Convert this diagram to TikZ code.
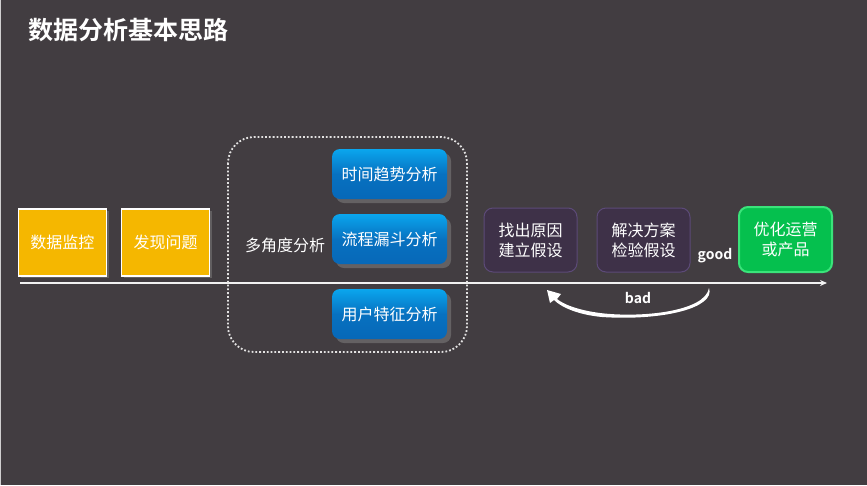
\documentclass[tikz,border=0pt]{standalone}
\usepackage{fontspec}
\setmainfont{Noto Sans CJK SC}
\newfontfamily\cjkb{Noto Sans CJK SC Bold}
\usetikzlibrary{arrows.meta,shadows,shapes.misc}
\definecolor{bg}{HTML}{423D41}
\definecolor{ybox}{HTML}{F5B700}
\definecolor{btop}{HTML}{0AA6EE}
\definecolor{bbot}{HTML}{0768B8}
\definecolor{pfill}{HTML}{3E3148}
\definecolor{pline}{HTML}{5C4A78}
\definecolor{gfill}{HTML}{05C04E}
\definecolor{gline}{HTML}{3AE47A}
\tikzset{
  txt/.style={text=white, font=\fontsize{16}{19}\selectfont},
  ybx/.style={txt, draw=white, line width=1.5pt, fill=ybox, minimum width=88pt, minimum height=67pt,
    drop shadow={opacity=0.5,shadow xshift=2pt,shadow yshift=-2pt}},
  bbx/.style={txt, rounded corners=8pt, top color=btop, bottom color=bbot, middle color=bbot!85!btop, minimum width=115pt, minimum height=50pt,
    drop shadow={opacity=0.55,shadow xshift=4pt,shadow yshift=-4pt}},
  pbx/.style={txt, rounded corners=9pt, draw=pline, line width=1pt, fill=pfill, minimum width=93pt, minimum height=64pt,
    align=center, font=\fontsize{16}{20}\selectfont},
  gbx/.style={txt, rounded corners=9pt, draw=gline, line width=2pt, fill=gfill, minimum width=93pt, minimum height=65pt,
    align=center, font=\fontsize{16}{20}\selectfont},
  lbl/.style={text=white, font=\cjkb\fontsize{14}{16}\selectfont},
}
\begin{document}
\begin{tikzpicture}[x=1pt,y=-1pt]
\fill[bg] (0,0) rectangle (867,485);
\useasboundingbox (0,0) rectangle (867,485);
\draw[white!75!bg, line width=1pt] (0.5,0) -- (0.5,485);
\node[anchor=west, text=white, font=\cjkb\fontsize{25}{28}\selectfont] (title) at (25,30) {数据分析基本思路};
% main arrow
\coordinate (ls) at (20,283);
\coordinate (le) at (827,283);
\draw[white!90!gray, line width=1.6pt, -{Stealth[length=7pt,width=6pt]}] (ls) -- (le);
% yellow boxes
\node[ybx] (mon) at (62.5,242.5) {数据监控};
\node[ybx] (find) at (165.5,242.5) {发现问题};
% dotted group
\draw[white!85!bg, line width=1.8pt, dotted, rounded corners=26pt] (228,137) rectangle (467,352);
\node[txt] (multi) at (285,245) {多角度分析};
% blue boxes
\node[bbx] (t1) at (389.5,174) {时间趋势分析};
\node[bbx] (t2) at (389.5,239) {流程漏斗分析};
\node[bbx] (t3) at (389.5,314) {用户特征分析};
% purple boxes
\node[pbx] (p1) at (530.5,240) {找出原因\\建立假设};
\node[pbx] (p2) at (643.5,240) {解决方案\\检验假设};
\node[gbx] (g) at (785.5,239.5) {优化运营\\或产品};
\node[lbl] (good) at (715,256) {good};
\node[lbl] (bad) at (638,298) {bad};
% curved back arrow
\coordinate (bs) at (708,289);
\coordinate (be) at (548,292);
\fill[white] (709,288) .. controls (705,312) and (640,318) .. (600,313)
  .. controls (577,310) and (563,304) .. (557,299)
  -- (561,294) -- (547,290) -- (550,303) -- (554,300)
  .. controls (562,308) and (580,315) .. (602,317)
  .. controls (662,321) and (716,308) .. (709,288) -- cycle;
\end{tikzpicture}
\end{document}
